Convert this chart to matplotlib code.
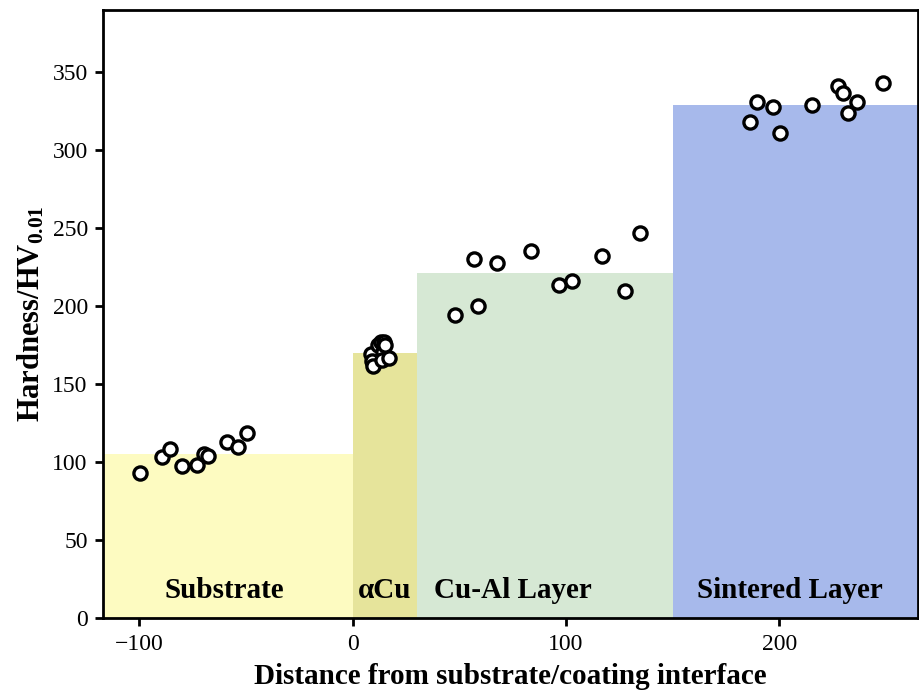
import matplotlib
matplotlib.use("Agg")
import matplotlib.pyplot as plt

# layer bands: start, width, mean hardness
layer_names = ["Substrate", "\u03b1Cu", "Cu-Al Layer", "Sintered Layer"]
layer_start = [-120, 0, 30, 150]
layer_width = [120, 30, 120, 120]
layer_hv = [105, 170, 221, 329]
layer_colors = ["#fdfbc1", "#e6e49b", "#d6e8d4", "#a7b9eb"]
label_x = [-60, 15, 75, 205]

# measured points
sub_x = [-99.8, -89.6, -85.7, -79.8, -72.9, -69.8, -67.7, -58.7, -53.7, -49.5]
sub_y = [92.9, 103.2, 108.3, 97.6, 98.3, 105.1, 104.2, 113.2, 109.6, 119.0]
acu_x = [8.4, 8.9, 9.4, 11.7, 13.1, 14.5, 14.1, 13.6, 16.9, 15.0]
acu_y = [169.6, 165.0, 161.8, 175.3, 177.3, 177.3, 170.8, 165.7, 167.0, 175.3]
cual_x = [47.8, 58.9, 57.0, 67.7, 83.5, 96.5, 102.7, 116.6, 127.6, 134.7]
cual_y = [194.6, 200.4, 230.4, 227.6, 235.5, 213.7, 216.4, 231.9, 209.4, 246.6]
sint_x = [186.4, 189.5, 197.2, 200.3, 215.2, 227.4, 230.0, 232.3, 236.4, 248.4]
sint_y = [318.1, 330.6, 327.8, 310.9, 328.8, 340.8, 336.7, 323.7, 330.9, 343.0]

plt.rcParams['font.family'] = ['Liberation Serif', 'DejaVu Serif']
plt.rcParams['mathtext.fontset'] = 'custom'
plt.rcParams['mathtext.bf'] = 'Liberation Serif:bold'
plt.rcParams['mathtext.rm'] = 'Liberation Serif:bold'
plt.rcParams['mathtext.default'] = 'bf'

fig = plt.figure(figsize=(9.2, 6.9), dpi=100)
ax = fig.add_axes([0.112, 0.104, 0.886, 0.882])

ax.bar(layer_start, layer_hv, width=layer_width, align='edge',
       color=layer_colors, edgecolor='none', zorder=1)

for xs, ys in [(sub_x, sub_y), (acu_x, acu_y), (cual_x, cual_y), (sint_x, sint_y)]:
    ax.scatter(xs, ys, s=90, facecolor='white', edgecolor='black',
               linewidth=2.4, zorder=3)

for name, lx in zip(layer_names, label_x):
    ax.text(lx, 18, name, ha='center', va='center', fontsize=21,
            fontweight='bold', zorder=4)

ax.set_xlim(-117, 265)
ax.set_ylim(0, 390)
ax.set_yticks(range(0, 351, 50))
ax.set_xticks([-100, 0, 100, 200])
ax.set_xticklabels(['\u2212100', '0', '100', '200'])
ax.tick_params(labelsize=17, width=2, length=6, pad=5)

for sp in ax.spines.values():
    sp.set_linewidth(2)

ax.set_xlabel("Distance from substrate/coating interface", fontsize=21,
              fontweight='bold', labelpad=6)
ax.set_ylabel("Hardness/HV$_{0.01}$", fontsize=22, fontweight='bold', labelpad=4)

fig.savefig("out.png", dpi=100)
